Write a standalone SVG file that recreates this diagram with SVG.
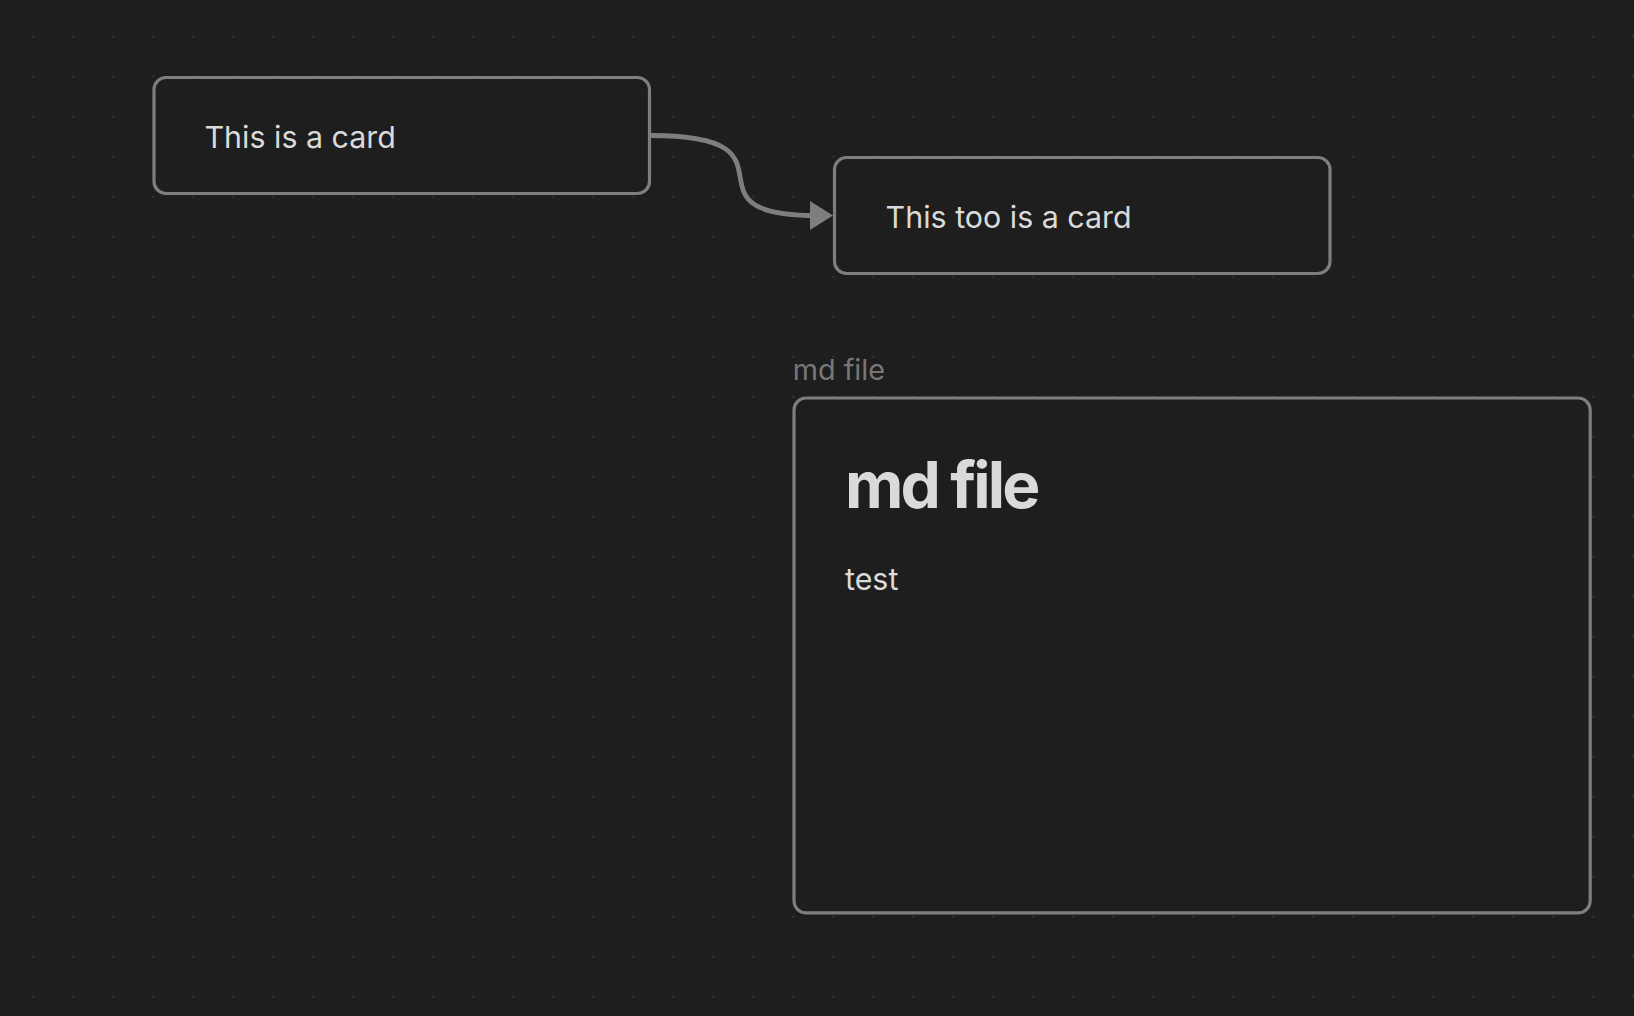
<svg xmlns="http://www.w3.org/2000/svg" width="1634" height="1016" viewBox="0 0 1634 1016">
<style>
.bg{fill:#1e1e1e}
.node{fill:#1e1e1e;stroke:#7e7e7e;stroke-width:3.2}
.txt{font-family:Inter,"Liberation Sans",sans-serif;font-size:30.4px;fill:#dadada}
.label{font-family:Inter,"Liberation Sans",sans-serif;font-size:28.8px;fill:#777777}
.h1{font-family:Inter,"Liberation Sans",sans-serif;font-size:64px;font-weight:700;fill:#dadada;letter-spacing:-2.9px}
.edge{fill:none;stroke:#7e7e7e;stroke-width:4.8}
</style>
<defs>
<pattern id="dots" x="13.33" y="16.67" width="40" height="40" patternUnits="userSpaceOnUse">
<circle cx="20" cy="20" r="1.1" fill="#3a3a3a"/>
</pattern>
</defs>
<rect class="bg" x="0" y="0" width="1634" height="1016"/>
<rect x="0" y="0" width="1634" height="1016" fill="url(#dots)"/>
<g id="connectors">
<path class="edge" d="M651,135.5 C811,135.5 673,215.5 816,215.5"/>
<polygon points="833,215.5 810,201 810,230" fill="#7e7e7e"/>
</g>
<g id="card1">
<rect class="node" x="154" y="77.5" width="495.5" height="116" rx="12"/>
<text class="txt" x="204.5" y="147.7">This is a card</text>
</g>
<g id="card2">
<rect class="node" x="834.5" y="157.5" width="495.5" height="116" rx="12"/>
<text class="txt" x="885.6" y="227.7">This too is a card</text>
</g>
<g id="mdfile">
<text class="label" x="792.7" y="380">md file</text>
<rect class="node" x="794" y="398" width="796.2" height="514.8" rx="12"/>
<text class="h1" x="845" y="508.3">md file</text>
<text class="txt" x="845" y="590">test</text>
</g>
</svg>
